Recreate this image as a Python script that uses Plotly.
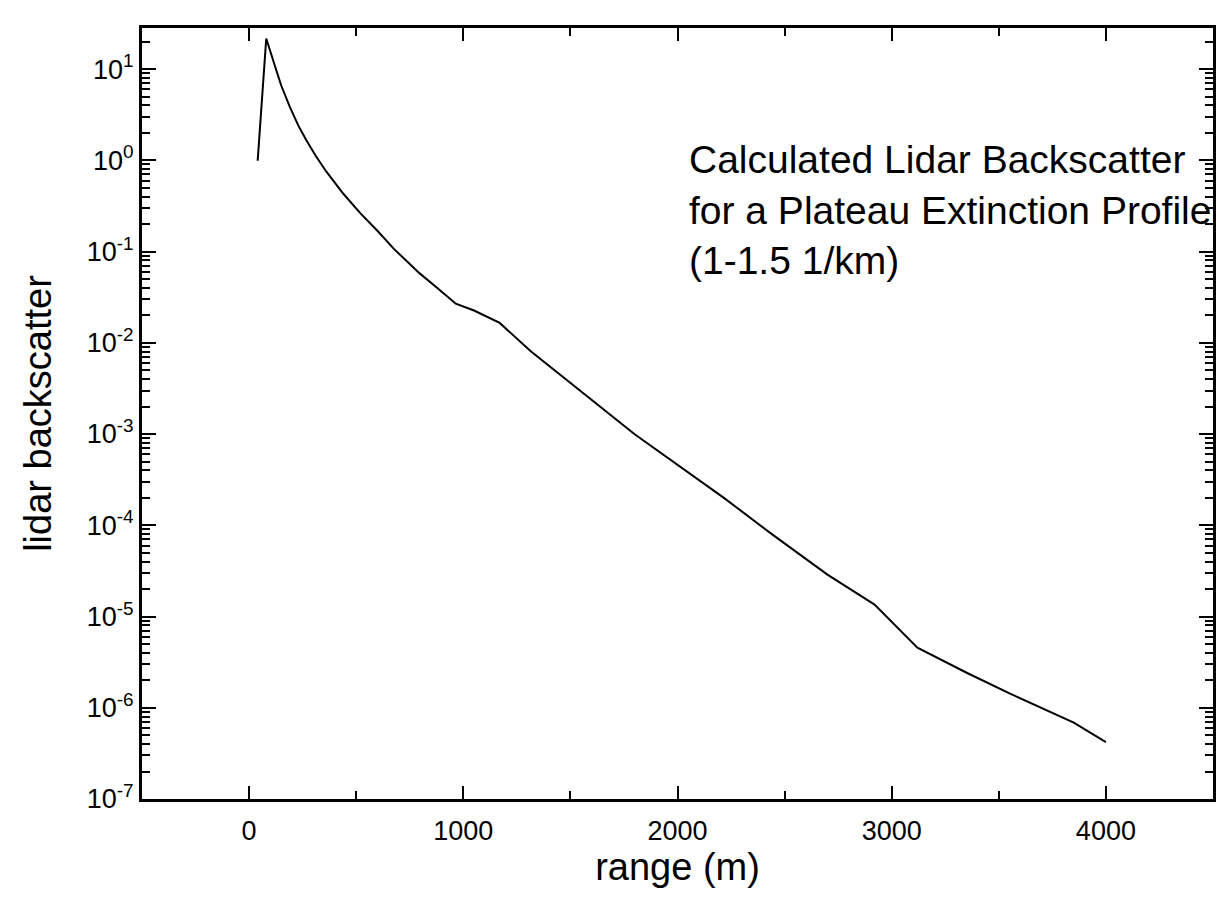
import plotly.graph_objects as go

# Data
range_m = [40, 80, 124, 150, 190, 230, 266, 310, 360, 440, 520, 600, 676, 795, 880,
           965, 1050, 1170, 1315, 1485, 1800, 2215, 2450, 2700, 2920, 3120, 3350,
           3555, 3850, 4000]
backscatter = [0.99, 21.6, 10.2, 6.6, 3.85, 2.4, 1.68, 1.13, 0.755, 0.43, 0.262, 0.168,
               0.107, 0.058, 0.0395, 0.0268, 0.0226, 0.0165, 0.00807, 0.00385, 0.000995,
               2.01e-4, 7.7e-5, 2.88e-5, 1.35e-5, 4.55e-6, 2.42e-6, 1.42e-6, 6.86e-7, 4.2e-7]

x_tick_vals = [0, 1000, 2000, 3000, 4000]
x_tick_text = ["0", "1000", "2000", "3000", "4000"]
x_minor_vals = [-500, 500, 1500, 2500, 3500]
y_decades = [-7, -6, -5, -4, -3, -2, -1, 0, 1]
y_tick_vals = [10.0 ** d for d in y_decades]
y_tick_text = ["10<sup>%d</sup>" % d for d in y_decades]
y_minor_vals = [m * 10.0 ** d for d in y_decades for m in range(2, 10) if m * 10.0 ** d < 28]

W, H = 1220, 916
L, R, T, B = 142, 1216, 28, 799
X_RANGE = [-500, 4500]

fig = go.Figure()
fig.add_trace(go.Scatter(x=range_m, y=backscatter, mode="lines",
                         line=dict(color="black", width=2)))
# empty helper trace so the overlay axis (tick marks only) is drawn
fig.add_trace(go.Scatter(x=[], y=[], xaxis="x2", yaxis="y", mode="lines",
                         hoverinfo="skip", showlegend=False))

fig.update_layout(
    width=W, height=H,
    margin=dict(l=L, r=W - R, t=T, b=H - B, pad=0),
    paper_bgcolor="white", plot_bgcolor="white", showlegend=False,
    font=dict(family="Liberation Sans, Arial, sans-serif", color="black"),
    annotations=[dict(
        text="Calculated Lidar Backscatter<br>for a Plateau Extinction Profile<br>(1-1.5 1/km)",
        xref="paper", yref="paper",
        x=(689 - L) / (R - L), y=(B - 136) / (B - T),
        xanchor="left", yanchor="top", align="left", showarrow=False,
        font=dict(size=39, color="black"))],
    xaxis=dict(
        range=X_RANGE, tickmode="array", tickvals=x_tick_vals, ticktext=x_tick_text,
        ticks="", showline=True, linewidth=3, linecolor="black", mirror=True,
        showgrid=False, zeroline=False, tickfont=dict(size=27), ticklabelstandoff=6,
        title=dict(text="range (m)", font=dict(size=38), standoff=6),
    ),
    xaxis2=dict(
        range=X_RANGE, overlaying="x", anchor="y", side="bottom",
        tickmode="array", tickvals=x_tick_vals, showticklabels=False,
        ticks="inside", ticklen=13, tickwidth=2, tickcolor="black",
        showline=False, mirror="ticks", showgrid=False, zeroline=False,
        minor=dict(tickmode="array", tickvals=x_minor_vals, ticks="inside", ticklen=8,
                   tickwidth=2, tickcolor="black", showgrid=False),
    ),
    yaxis=dict(
        type="log", range=[-7, 1.45], tickmode="array", tickvals=y_tick_vals,
        ticktext=y_tick_text,
        ticks="inside", ticklen=14, tickwidth=2, tickcolor="black",
        showline=True, linewidth=3, linecolor="black", mirror="ticks",
        showgrid=False, zeroline=False, tickfont=dict(size=27),
        minor=dict(tickmode="array", tickvals=y_minor_vals, ticks="inside", ticklen=8,
                   tickwidth=2, tickcolor="black", showgrid=False),
        title=dict(text="lidar backscatter", font=dict(size=38), standoff=24),
    ),
)

fig.write_html("out.html")
